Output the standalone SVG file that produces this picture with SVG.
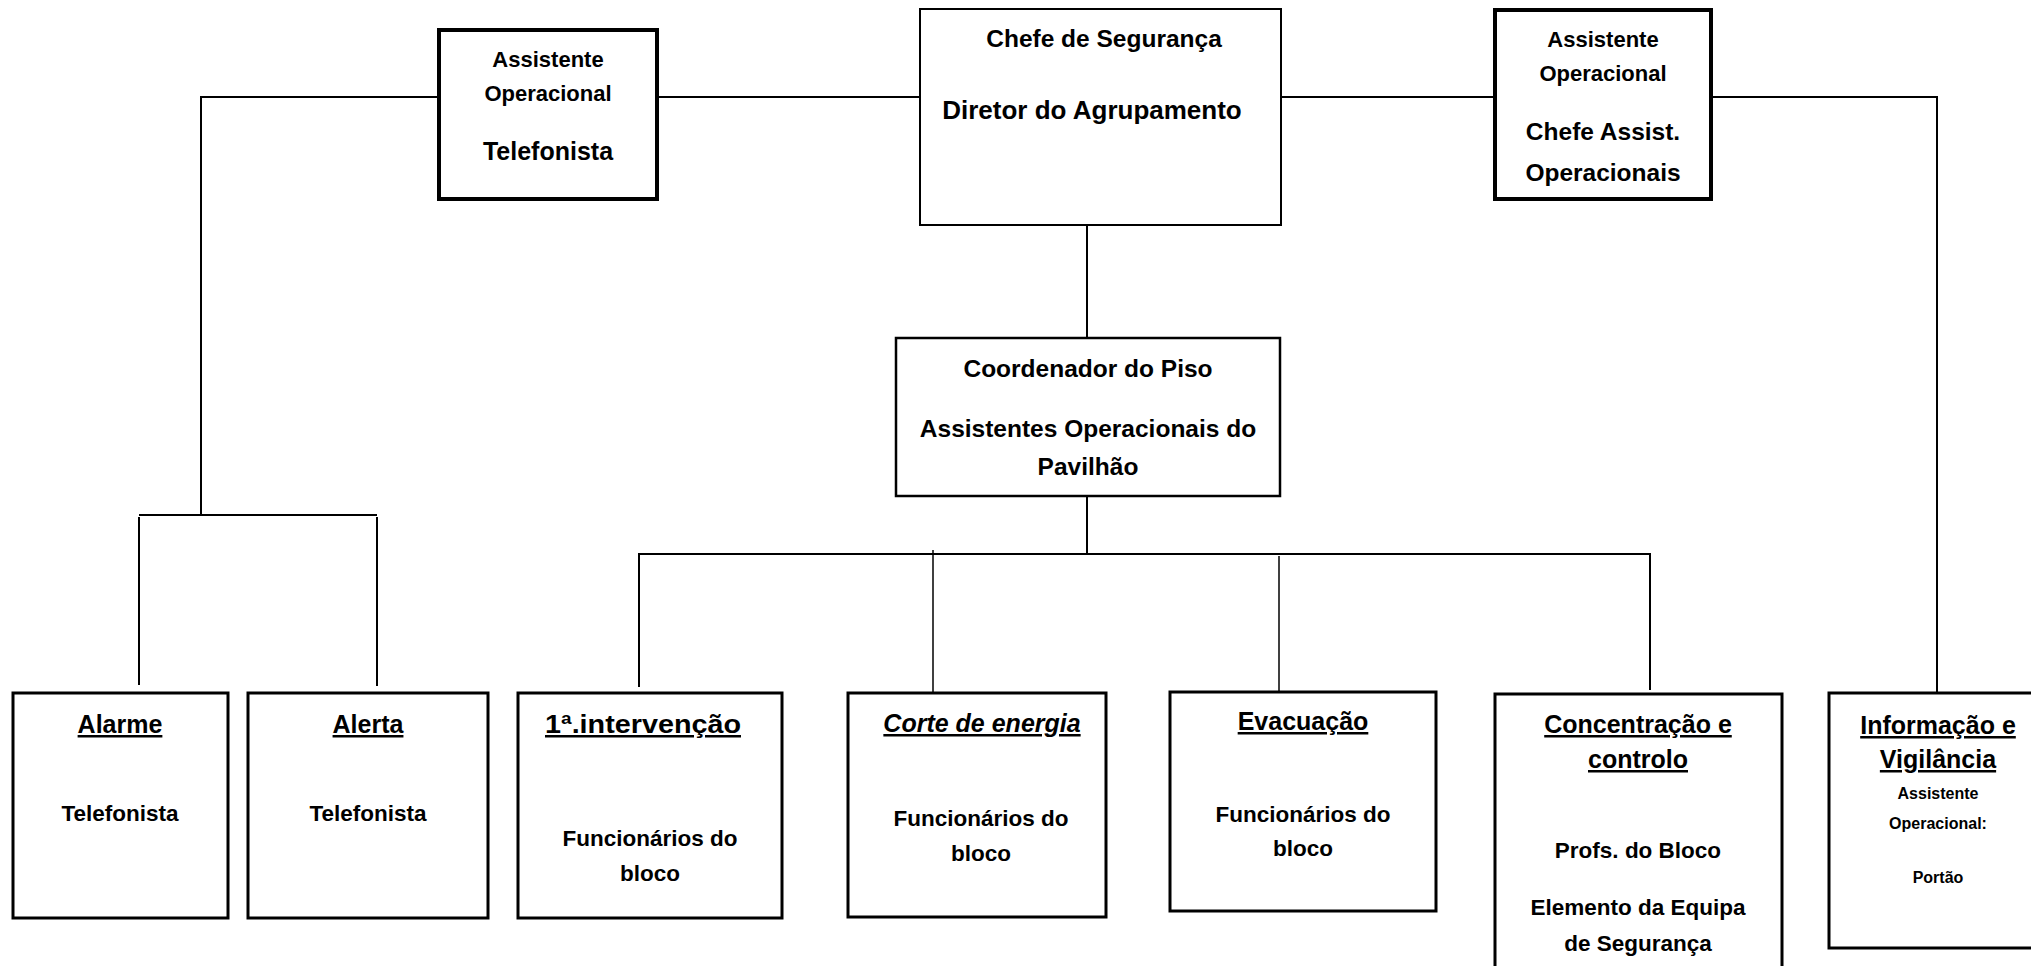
<svg xmlns="http://www.w3.org/2000/svg" width="2031" height="966" viewBox="0 0 2031 966">
<style>
  .bg{fill:#ffffff}
  .box{fill:#ffffff;stroke:#000000}
  .thick{stroke-width:4}
  .thin{stroke-width:2}
  .mid{stroke-width:3}
  .ln{fill:none;stroke:#000000;stroke-width:2}
  .lt{fill:none;stroke:#000000;stroke-width:1.5}
  text{font-family:"Liberation Sans",Arial,sans-serif;font-weight:bold;fill:#000000;text-anchor:middle}
  .s15{font-size:16px}
  .s22{font-size:22px}
  .s225{font-size:22.5px}
  .s24{font-size:24.5px}
  .s25{font-size:25px}
  .s26{font-size:26px}
  .u{text-decoration:underline}
  .it{font-style:italic}
</style>
<rect class="bg" x="0" y="0" width="2031" height="966"/>
<g id="connectors">
  <path class="ln" d="M201 514 V97 H439"/>
  <path class="ln" d="M657 97 H920"/>
  <path class="ln" d="M1281 97 H1495"/>
  <path class="ln" d="M1711 97 H1937 V693"/>
  <path class="ln" d="M1087 225 V338"/>
  <path class="ln" d="M1087 496 V554"/>
  <path class="ln" d="M639 687 V554 H1650 V690"/>
  <path class="lt" d="M933 550 V693"/>
  <path class="lt" d="M1279 556 V692"/>
  <path class="ln" d="M139 515 H377"/>
  <path class="ln" d="M139 517 V685"/>
  <path class="ln" d="M377 517 V686"/>
</g>
<g id="node-telefonista">
  <rect class="box thick" x="439" y="30" width="218" height="169"/>
  <text class="s22" x="548" y="67">Assistente</text>
  <text class="s22" x="548" y="101">Operacional</text>
  <text class="s25" x="548" y="160">Telefonista</text>
</g>
<g id="node-chefe-seguranca">
  <rect class="box thin" x="920" y="9" width="361" height="216"/>
  <text class="s24" x="1104" y="47">Chefe de Segurança</text>
  <text class="s26" x="1092" y="119">Diretor do Agrupamento</text>
</g>
<g id="node-chefe-assist">
  <rect class="box thick" x="1495" y="10" width="216" height="189"/>
  <text class="s22" x="1603" y="47">Assistente</text>
  <text class="s22" x="1603" y="81">Operacional</text>
  <text class="s24" x="1603" y="140">Chefe Assist.</text>
  <text class="s24" x="1603" y="181">Operacionais</text>
</g>
<g id="node-coordenador">
  <rect class="box" stroke-width="2.5" x="896" y="338" width="384" height="158"/>
  <text class="s24" x="1088" y="377">Coordenador do Piso</text>
  <text class="s24" x="1088" y="437">Assistentes Operacionais do</text>
  <text class="s24" x="1088" y="475">Pavilhão</text>
</g>
<g id="node-alarme">
  <rect class="box mid" x="13" y="693" width="215" height="225"/>
  <text class="s25 u" x="120" y="733">Alarme</text>
  <text class="s225" x="120" y="821">Telefonista</text>
</g>
<g id="node-alerta">
  <rect class="box mid" x="248" y="693" width="240" height="225"/>
  <text class="s25 u" x="368" y="733">Alerta</text>
  <text class="s225" x="368" y="821">Telefonista</text>
</g>
<g id="node-intervencao">
  <rect class="box mid" x="518" y="693" width="264" height="225"/>
  <text class="s25 u" x="643" y="733" textLength="196" lengthAdjust="spacingAndGlyphs">1ª.intervenção</text>
  <text class="s225" x="650" y="846">Funcionários do</text>
  <text class="s225" x="650" y="881">bloco</text>
</g>
<g id="node-corte">
  <rect class="box mid" x="848" y="693" width="258" height="224"/>
  <text class="s25 u it" x="982" y="732">Corte de energia</text>
  <text class="s225" x="981" y="826">Funcionários do</text>
  <text class="s225" x="981" y="861">bloco</text>
</g>
<g id="node-evacuacao">
  <rect class="box mid" x="1170" y="692" width="266" height="219"/>
  <text class="s25 u" x="1303" y="730">Evacuação</text>
  <text class="s225" x="1303" y="822">Funcionários do</text>
  <text class="s225" x="1303" y="856">bloco</text>
</g>
<g id="node-concentracao">
  <rect class="box mid" x="1495" y="694" width="287" height="290"/>
  <text class="s25 u" x="1638" y="733">Concentração e</text>
  <text class="s25 u" x="1638" y="768">controlo</text>
  <text class="s225" x="1638" y="858">Profs. do Bloco</text>
  <text class="s225" x="1638" y="915">Elemento da Equipa</text>
  <text class="s225" x="1638" y="951">de Segurança</text>
</g>
<g id="node-informacao">
  <rect class="box mid" x="1829" y="693" width="230" height="255"/>
  <text class="s25 u" x="1938" y="734">Informação e</text>
  <text class="s25 u" x="1938" y="768">Vigilância</text>
  <text class="s15" x="1938" y="799">Assistente</text>
  <text class="s15" x="1938" y="829">Operacional:</text>
  <text class="s15" x="1938" y="883">Portão</text>
</g>
</svg>
